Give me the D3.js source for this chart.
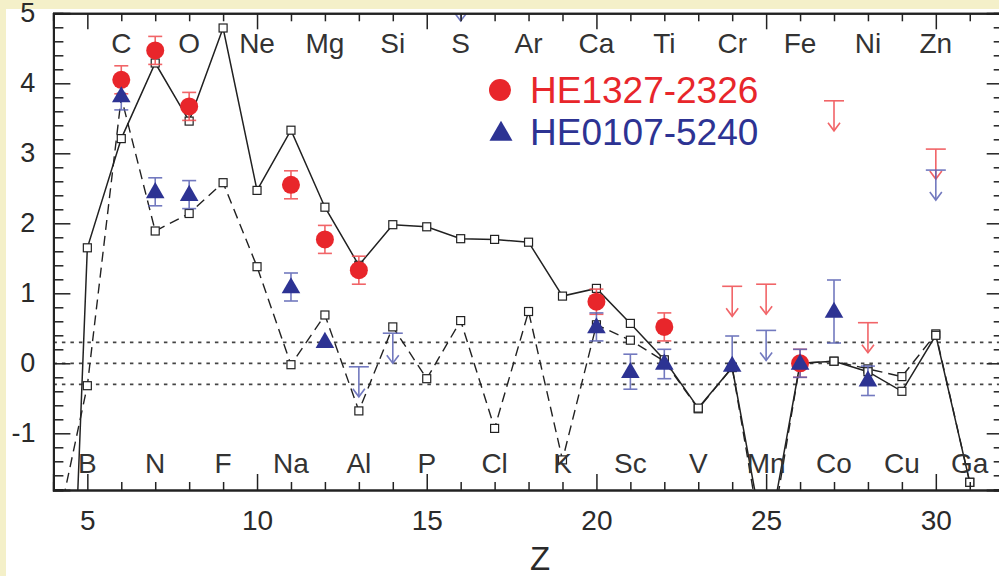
<!DOCTYPE html>
<html>
<head>
<meta charset="utf-8">
<script src="https://cdn.jsdelivr.net/npm/d3@7"></script>
<style>
  body { margin: 0; background: #f4f0c9; }
  svg { display: block; }
  text { font-family: "Liberation Sans", Arial, sans-serif; }
</style>
</head>
<body>
<div id="chart"></div>
<script>
// model abundance patterns, [X/Fe] vs Z
const zModel = [4, 5, 6, 7, 8, 9, 10, 11, 12, 13, 14, 15, 16, 17, 18, 19, 20, 21, 22, 23, 24, 25, 26, 27, 28, 29, 30, 31];
const modelSolid = [-10.7, 1.65, 3.21, 4.29, 3.46, 4.79, 2.47, 3.33, 2.23, 1.4, 1.98, 1.95, 1.78, 1.77, 1.73, 0.96, 1.07, 0.57, 0.05, -0.64, -0.06, -2.7, 0.0, 0.03, -0.12, -0.4, 0.4, -1.7];
const modelDashed = [-2.6, -0.32, 3.8, 1.89, 2.14, 2.58, 1.38, -0.02, 0.69, -0.68, 0.52, -0.22, 0.61, -0.93, 0.74, -1.38, 0.55, 0.33, 0.03, -0.65, -0.06, -2.9, 0.0, 0.03, -0.08, -0.19, 0.42, -1.7];

// HE1327-2326 (red circles)
const redZ = [6, 7, 8, 11, 12, 13, 20, 22, 26];
const redVal = [4.05, 4.47, 3.67, 2.55, 1.77, 1.33, 0.88, 0.52, 0.0];
const redErr = [0.2, 0.2, 0.2, 0.2, 0.2, 0.2, 0.18, 0.2, 0.2];
const redLimZ = [24, 25, 27, 28, 30];
const redLimVal = [1.1, 1.13, 3.75, 0.58, 3.06];

// HE0107-5240 (blue triangles)
const blueZ = [6, 7, 8, 11, 12, 20, 21, 22, 24, 26, 27, 28];
const blueVal = [3.82, 2.45, 2.41, 1.09, 0.31, 0.52, -0.12, 0.0, -0.03, 0.0, 0.74, -0.24];
const blueErrLo = [0.2, 0.2, 0.2, 0.2, 0, 0.2, 0.25, 0.22, 0, 0.2, 0.45, 0.22];
const blueErrHi = [0.2, 0.2, 0.2, 0.2, 0, 0.2, 0.25, 0.2, 0.42, 0.2, 0.45, 0.2];
const blueLimZ = [13, 14, 16, 25, 30, 31];
const blueLimVal = [-0.05, 0.43, 5.32, 0.47, 2.76, 5.43];

// element labels
const topElems = ["C", "O", "Ne", "Mg", "Si", "S", "Ar", "Ca", "Ti", "Cr", "Fe", "Ni", "Zn"];
const topElemZ = [6, 8, 10, 12, 14, 16, 18, 20, 22, 24, 26, 28, 30];
const botElems = ["B", "N", "F", "Na", "Al", "P", "Cl", "K", "Sc", "V", "Mn", "Co", "Cu", "Ga"];
const botElemZ = [5, 7, 9, 11, 13, 15, 17, 19, 21, 23, 25, 27, 29, 31];

const refLines = [0.3, 0, -0.3];
const xMajor = [5, 10, 15, 20, 25, 30];
const yMajor = [-1, 0, 1, 2, 3, 4, 5];

const W = 999, H = 576;
const RED = "#e8262b", RED_ERR = "#ef4a4e";
const BLUE = "#2d3393", BLUE_ERR = "#5a62b4";

const x = d3.scaleLinear().domain([4, 32]).range([53.4, 1003.7]);
const y = d3.scaleLinear().domain([-1.81, 5]).range([490, 13.3]);

const svg = d3.select("#chart").append("svg")
    .attr("width", W)
    .attr("height", H);

svg.append("rect")
    .attr("x", 6).attr("y", 9)
    .attr("width", W).attr("height", H)
    .attr("fill", "#fff");

svg.append("clipPath").attr("id", "plot-clip")
  .append("rect")
    .attr("x", x(4)).attr("y", y(5))
    .attr("width", x(32) - x(4)).attr("height", y(-1.81) - y(5));

// dotted reference lines
svg.append("g").selectAll("line")
    .data(refLines)
    .join("line")
    .attr("x1", x(4)).attr("x2", x(32))
    .attr("y1", d => y(d)).attr("y2", d => y(d))
    .attr("stroke", "#444")
    .attr("stroke-width", 1.8)
    .attr("stroke-dasharray", "3.5,5");

const plot = svg.append("g").attr("clip-path", "url(#plot-clip)");

// model lines
const line = d3.line().x((d, i) => x(zModel[i])).y(d => y(d));
plot.append("path")
    .datum(modelDashed)
    .attr("d", line)
    .attr("fill", "none")
    .attr("stroke", "#222")
    .attr("stroke-width", 1.4)
    .attr("stroke-dasharray", "10,6");
plot.append("path")
    .datum(modelSolid)
    .attr("d", line)
    .attr("fill", "none")
    .attr("stroke", "#222")
    .attr("stroke-width", 1.5);

[modelDashed, modelSolid].forEach(series => {
    plot.append("g").selectAll("rect")
        .data(series)
        .join("rect")
        .attr("x", (d, i) => x(zModel[i]) - 4)
        .attr("y", d => y(d) - 4)
        .attr("width", 8).attr("height", 8)
        .attr("fill", "#fff")
        .attr("stroke", "#222")
        .attr("stroke-width", 1.2);
});

// error bars
function errorBars(g, zs, vals, lo, hi, color) {
    const grp = g.append("g")
        .attr("stroke", color)
        .attr("stroke-width", 1.6)
        .attr("opacity", 0.85);
    zs.forEach((z, i) => {
        if (lo[i] === 0 && hi[i] === 0) return;
        const cx = x(z);
        const y1 = y(vals[i] + hi[i]), y0 = y(vals[i] - lo[i]);
        grp.append("line").attr("x1", cx).attr("x2", cx).attr("y1", y1).attr("y2", y0);
        if (hi[i] > 0) grp.append("line").attr("x1", cx - 7).attr("x2", cx + 7).attr("y1", y1).attr("y2", y1);
        if (lo[i] > 0) grp.append("line").attr("x1", cx - 7).attr("x2", cx + 7).attr("y1", y0).attr("y2", y0);
    });
}

// upper limits: cap + downward arrow
function upperLimits(g, zs, vals, color) {
    const grp = g.append("g")
        .attr("stroke", color)
        .attr("stroke-width", 1.6)
        .attr("fill", "none")
        .attr("opacity", 0.85);
    zs.forEach((z, i) => {
        const cx = x(z), cy = y(vals[i]), tip = cy + 30;
        grp.append("line").attr("x1", cx - 10).attr("x2", cx + 10).attr("y1", cy).attr("y2", cy);
        grp.append("line").attr("x1", cx).attr("x2", cx).attr("y1", cy).attr("y2", tip);
        grp.append("path").attr("d", `M${cx - 6},${tip - 8}L${cx},${tip}L${cx + 6},${tip - 8}`);
    });
}

errorBars(plot, redZ, redVal, redErr, redErr, RED_ERR);
errorBars(plot, blueZ, blueVal, blueErrLo, blueErrHi, BLUE_ERR);
upperLimits(plot, redLimZ, redLimVal, RED_ERR);
upperLimits(plot, blueLimZ, blueLimVal, BLUE_ERR);

const tri = d3.symbol().type(d3.symbolTriangle).size(150);

plot.append("g").selectAll("circle")
    .data(redVal)
    .join("circle")
    .attr("cx", (d, i) => x(redZ[i]))
    .attr("cy", d => y(d))
    .attr("r", 9)
    .attr("fill", RED);

plot.append("g").selectAll("path")
    .data(blueVal)
    .join("path")
    .attr("d", tri)
    .attr("transform", (d, i) => `translate(${x(blueZ[i])},${y(d) + 1})`)
    .attr("fill", BLUE);

// axes with inward ticks
function styleAxis(g) {
    g.select(".domain").attr("stroke", "#222").attr("stroke-width", 2);
    g.selectAll(".tick line").attr("stroke", "#222").attr("stroke-width", 1.5);
    g.selectAll(".tick text")
        .attr("fill", "#2a2a2a")
        .style("font-family", "'Liberation Sans', Arial, sans-serif");
}

const xMinor = d3.range(5, 32, 1).filter(v => !xMajor.includes(v));
const yMinor = d3.range(-18, 50, 2).map(v => v / 10).filter(v => !yMajor.includes(v));
const plain = d => String(d);

// bottom
svg.append("g").attr("transform", `translate(0,${y(-1.81)})`)
    .call(d3.axisBottom(x).tickValues(xMinor).tickSize(-8).tickFormat(""))
    .call(styleAxis);
svg.append("g").attr("transform", `translate(0,${y(-1.81)})`)
    .call(d3.axisBottom(x).tickValues(xMajor).tickSize(-16).tickPadding(20).tickFormat(plain))
    .call(styleAxis)
    .call(g => g.selectAll(".tick text").style("font-size", "28px"));
// top
svg.append("g").attr("transform", `translate(0,${y(5)})`)
    .call(d3.axisTop(x).tickValues(xMinor).tickSize(-8).tickFormat(""))
    .call(styleAxis);
svg.append("g").attr("transform", `translate(0,${y(5)})`)
    .call(d3.axisTop(x).tickValues(xMajor).tickSize(-16).tickFormat(""))
    .call(styleAxis);
// left
svg.append("g").attr("transform", `translate(${x(4)},0)`)
    .call(d3.axisLeft(y).tickValues(yMinor).tickSize(-10).tickFormat(""))
    .call(styleAxis);
svg.append("g").attr("transform", `translate(${x(4)},0)`)
    .call(d3.axisLeft(y).tickValues(yMajor).tickSize(-17).tickPadding(18).tickFormat(plain))
    .call(styleAxis)
    .call(g => g.selectAll(".tick text").style("font-size", "27px"));
// right
svg.append("g").attr("transform", `translate(${x(32)},0)`)
    .call(d3.axisRight(y).tickValues(yMinor).tickSize(-10).tickFormat(""))
    .call(styleAxis);
svg.append("g").attr("transform", `translate(${x(32)},0)`)
    .call(d3.axisRight(y).tickValues(yMajor).tickSize(-17).tickFormat(""))
    .call(styleAxis);

// element names
svg.append("g").selectAll("text")
    .data(topElems)
    .join("text")
    .attr("x", (d, i) => x(topElemZ[i]))
    .attr("y", 53)
    .attr("text-anchor", "middle")
    .attr("fill", "#333")
    .style("font-size", "28px")
    .text(d => d);
svg.append("g").selectAll("text")
    .data(botElems)
    .join("text")
    .attr("x", (d, i) => x(botElemZ[i]))
    .attr("y", 473)
    .attr("text-anchor", "middle")
    .attr("fill", "#333")
    .style("font-size", "28px")
    .text(d => d);

// axis title
svg.append("text")
    .attr("x", 540).attr("y", 570)
    .attr("text-anchor", "middle")
    .attr("fill", "#2a2a2a")
    .style("font-size", "33px")
    .text("Z");

// legend
const legend = svg.append("g");
legend.append("circle").attr("cx", 500).attr("cy", 90).attr("r", 11).attr("fill", RED);
legend.append("text").attr("x", 530).attr("y", 103)
    .attr("fill", RED).style("font-size", "37px").text("HE1327-2326");
legend.append("path")
    .attr("d", d3.symbol().type(d3.symbolTriangle).size(230))
    .attr("transform", "translate(501,134)")
    .attr("fill", BLUE);
legend.append("text").attr("x", 530).attr("y", 145)
    .attr("fill", BLUE).style("font-size", "37px").text("HE0107-5240");
</script>
</body>
</html>
